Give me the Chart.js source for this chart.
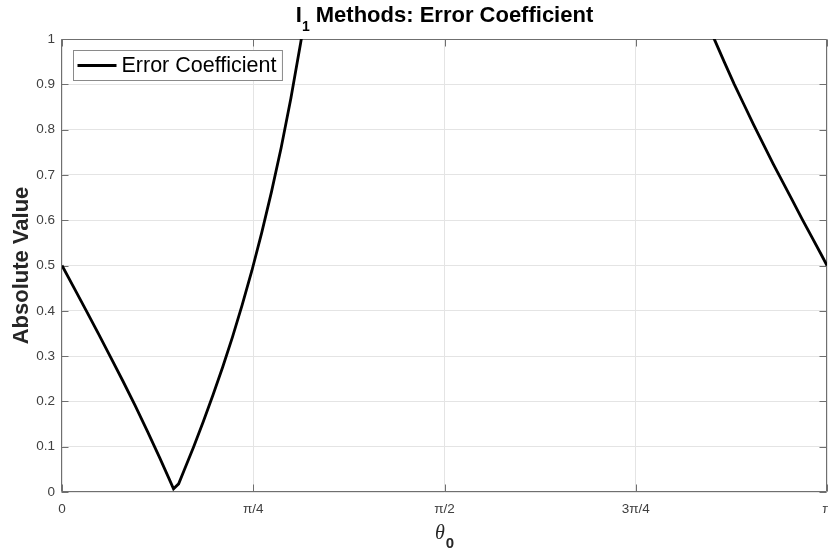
<!DOCTYPE html>
<html>
<head>
<meta charset="utf-8">
<script src="https://cdn.jsdelivr.net/npm/chart.js@4/dist/chart.umd.min.js"></script>
<style>
  body { margin: 0; background: #fff; }
  canvas { display: block; }
</style>
</head>
<body>
<canvas id="errChart" width="828" height="552"></canvas>
<script>
// theta_0 samples (rad) and |error coefficient|; null breaks the line where it leaves the axes
var theta = [0, 0.05, 0.10, 0.15, 0.20, 0.25, 0.30, 0.35, 0.40, 0.44, 0.458, 0.479, 0.50, 0.54, 0.58,
             0.62, 0.66, 0.70, 0.74, 0.78, 0.82, 0.86, 0.90, 0.94, 0.98, 1.00,
             1.80,
             2.66, 2.68, 2.72, 2.76, 2.80, 2.84, 2.88, 2.92, 2.96, 3.00, 3.04, 3.08, 3.12, 3.1416];
var errCoef = [0.500, 0.450, 0.400, 0.349, 0.297, 0.245, 0.191, 0.135, 0.077, 0.029, 0.007, 0.018, 0.046, 0.099, 0.155,
               0.214, 0.276, 0.342, 0.413, 0.489, 0.572, 0.662, 0.760, 0.869, 0.991, 1.057,
               null,
               1.023, 0.998, 0.949, 0.901, 0.856, 0.811, 0.768, 0.725, 0.684, 0.643, 0.602, 0.562, 0.522, 0.500];

var xTickVals = [0, Math.PI / 4, Math.PI / 2, 3 * Math.PI / 4, Math.PI];
var xTickLabels = ['0', 'π/4', 'π/2', '3π/4', 'π'];

var sans = '"Liberation Sans", Arial, Helvetica, sans-serif';
var axisGray = '#404040';

var points = [];
for (var i = 0; i < theta.length; i++) {
    points.push({x: theta[i], y: errCoef[i]});
}

// box around the axes with inward tick marks on all four sides
var frame = {
    id: 'frame',
    beforeDatasetsDraw: function(chart) {
        var ctx = chart.ctx, a = chart.chartArea;
        var xs = chart.scales.x, ys = chart.scales.y;
        var L = Math.round(a.left) - 0.5, R = Math.round(a.right) - 0.5;
        var T = Math.round(a.top) + 0.5, B = Math.round(a.bottom) - 0.5;
        ctx.save();
        ctx.strokeStyle = '#6f6f6f';
        ctx.lineWidth = 1;
        ctx.beginPath();
        ctx.rect(L, T, R - L, B - T);
        xs.ticks.forEach(function(t) {
            var px = Math.round(xs.getPixelForValue(t.value)) + 0.5;
            ctx.moveTo(px, B); ctx.lineTo(px, B - 7);
            ctx.moveTo(px, T); ctx.lineTo(px, T + 7);
        });
        ys.ticks.forEach(function(t) {
            var py = Math.round(ys.getPixelForValue(t.value)) + 0.5;
            ctx.moveTo(L, py); ctx.lineTo(L + 7, py);
            ctx.moveTo(R, py); ctx.lineTo(R - 7, py);
        });
        ctx.stroke();
        ctx.restore();
    }
};

// legend box in the upper left corner of the axes
var legendBox = {
    id: 'legendBox',
    afterDatasetsDraw: function(chart) {
        var ctx = chart.ctx, a = chart.chartArea;
        var ds = chart.data.datasets[0];
        ctx.save();
        ctx.font = '21.5px ' + sans;
        var tw = ctx.measureText(ds.label).width;
        var bx = a.left + 11.5, by = a.top + 11.5;
        var bw = 4 + 39 + 5 + tw + 6, bh = 30;
        ctx.fillStyle = '#fff';
        ctx.fillRect(bx, by, bw, bh);
        ctx.strokeStyle = '#8a8a8a';
        ctx.lineWidth = 1;
        ctx.strokeRect(bx, by, bw, bh);
        ctx.strokeStyle = ds.borderColor;
        ctx.lineWidth = ds.borderWidth;
        ctx.beginPath();
        ctx.moveTo(bx + 4, by + bh / 2);
        ctx.lineTo(bx + 43, by + bh / 2);
        ctx.stroke();
        ctx.fillStyle = '#000';
        ctx.textBaseline = 'middle';
        ctx.fillText(ds.label, bx + 48, by + bh / 2 + 1);
        ctx.restore();
    }
};

// title and x label, both with a subscript
var labels = {
    id: 'labels',
    afterDraw: function(chart) {
        var ctx = chart.ctx, a = chart.chartArea;
        var cx = (a.left + a.right) / 2;
        ctx.save();
        ctx.textBaseline = 'alphabetic';
        ctx.fillStyle = '#000';

        var big = 'bold 22px ' + sans, small = 'bold 14px ' + sans;
        var rest = ' Methods: Error Coefficient';
        ctx.font = big;
        var wI = ctx.measureText('I').width, wR = ctx.measureText(rest).width;
        ctx.font = small;
        var w1 = ctx.measureText('1').width;
        var x0 = cx - (wI + w1 + wR) / 2;
        ctx.font = big;
        ctx.fillText('I', x0, 22);
        ctx.font = small;
        ctx.fillText('1', x0 + wI, 31);
        ctx.font = big;
        ctx.fillText(rest, x0 + wI + w1, 22);

        ctx.fillStyle = '#262626';
        var th = 'italic 20px "Liberation Serif", "Times New Roman", serif';
        var sub = 'bold 15px ' + sans;
        ctx.font = th;
        var wt = ctx.measureText('θ').width;
        ctx.font = sub;
        var w0 = ctx.measureText('0').width;
        var xl = cx - (wt + w0 + 1) / 2;
        ctx.font = th;
        ctx.fillText('θ', xl, 539);
        ctx.font = sub;
        ctx.fillText('0', xl + wt + 1, 548);
        ctx.restore();
    }
};

var ctx = document.getElementById('errChart').getContext('2d');
var errChart = new Chart(ctx, {
    type: 'line',
    data: {
        datasets: [{
            label: 'Error Coefficient',
            data: points,
            borderColor: '#000',
            borderWidth: 2.8,
            pointRadius: 0,
            tension: 0,
            fill: false,
            spanGaps: false,
            clip: 0
        }]
    },
    options: {
        responsive: false,
        animation: false,
        layout: {
            autoPadding: false,
            padding: {top: 39, right: 1, bottom: 0, left: 0}
        },
        plugins: {
            legend: {display: false},
            title: {display: false},
            tooltip: {enabled: false}
        },
        scales: {
            x: {
                type: 'linear',
                min: 0,
                max: Math.PI,
                afterBuildTicks: function(s) {
                    s.ticks = xTickVals.map(function(v) { return {value: v}; });
                },
                afterFit: function(s) {
                    s.height = 60;
                    s.paddingLeft = 0;
                    s.paddingRight = 0;
                },
                ticks: {
                    autoSkip: false,
                    maxRotation: 0,
                    padding: 9,
                    color: axisGray,
                    font: {family: sans, size: 13.5},
                    callback: function(v, i) { return xTickLabels[i]; }
                },
                grid: {color: '#e4e4e4', drawTicks: false},
                border: {display: false}
            },
            y: {
                min: 0,
                max: 1,
                afterFit: function(s) {
                    s.width = 62;
                    s.paddingTop = 0;
                    s.paddingBottom = 0;
                },
                ticks: {
                    stepSize: 0.1,
                    padding: 7,
                    color: axisGray,
                    font: {family: sans, size: 13.5},
                    callback: function(v) { return String(Number(v.toFixed(1))); }
                },
                grid: {color: '#e4e4e4', drawTicks: false},
                border: {display: false},
                title: {
                    display: true,
                    text: 'Absolute Value',
                    color: '#262626',
                    font: {family: sans, size: 22, weight: 'bold'},
                    padding: {top: 9, bottom: 0}
                }
            }
        }
    },
    plugins: [frame, legendBox, labels]
});
</script>
</body>
</html>
